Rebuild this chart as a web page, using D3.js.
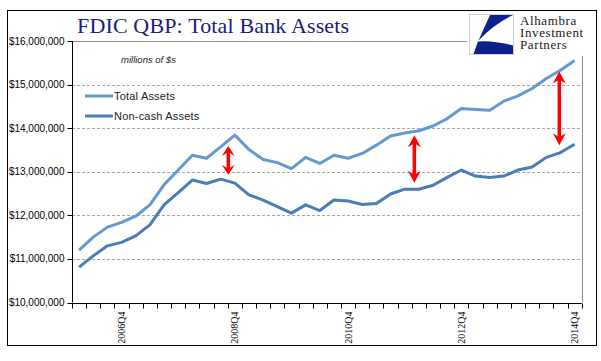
<!DOCTYPE html>
<html>
<head>
<meta charset="utf-8">
<script src="https://cdn.jsdelivr.net/npm/d3@7"></script>
<style>
  body { margin: 0; background: #fff; }
  svg { display: block; }
</style>
</head>
<body>
<div id="chart"></div>
<script>
// quarters shown on the category axis
const quarters = [
  "2006Q1","2006Q2","2006Q3","2006Q4","2007Q1","2007Q2","2007Q3","2007Q4",
  "2008Q1","2008Q2","2008Q3","2008Q4","2009Q1","2009Q2","2009Q3","2009Q4",
  "2010Q1","2010Q2","2010Q3","2010Q4","2011Q1","2011Q2","2011Q3","2011Q4",
  "2012Q1","2012Q2","2012Q3","2012Q4","2013Q1","2013Q2","2013Q3","2013Q4",
  "2014Q1","2014Q2","2014Q3","2014Q4"
];
const tickLabels = ["2006Q4", "2008Q4", "2010Q4", "2012Q4", "2014Q4"];

// trillions of $ (labels are shown in millions)
const totalAssets = [
  11.20, 11.50, 11.73, 11.84, 11.98, 12.24, 12.70, 13.04, 13.38, 13.31, 13.57, 13.84,
  13.51, 13.28, 13.21, 13.07, 13.33, 13.19, 13.38, 13.31, 13.42, 13.61, 13.82, 13.89,
  13.94, 14.05, 14.22, 14.45, 14.43, 14.41, 14.62, 14.74, 14.91, 15.14, 15.33, 15.55
];
const nonCashAssets = [
  10.81, 11.07, 11.30, 11.38, 11.53, 11.78, 12.24, 12.52, 12.81, 12.73, 12.83, 12.74,
  12.47, 12.35, 12.20, 12.05, 12.24, 12.11, 12.35, 12.33, 12.25, 12.27, 12.49, 12.60,
  12.60, 12.69, 12.87, 13.04, 12.90, 12.87, 12.90, 13.04, 13.11, 13.33, 13.44, 13.63
];
const seriesNames = ["Total Assets", "Non-cash Assets"];
const yTicks = [10, 11, 12, 13, 14, 15, 16];

// red double arrows: position on the category axis, top and bottom values
const arrowPos = [11.04, 24.18, 34.42];
const arrowTop = [13.59, 13.84, 15.30];
const arrowBottom = [12.93, 12.75, 13.61];

const width = 601, height = 361;
const plot = {left: 72, right: 581.7, top: 41, bottom: 302.5};

const svg = d3.select("#chart").append("svg")
    .attr("width", width)
    .attr("height", height);

svg.append("rect")
    .attr("x", 0).attr("y", 0)
    .attr("width", width).attr("height", height)
    .attr("fill", "#fff");

// outer frame
svg.append("rect")
    .attr("x", 7.5).attr("y", 10.5)
    .attr("width", 589).attr("height", 335)
    .attr("fill", "none")
    .attr("stroke", "#000")
    .attr("stroke-width", 1);

const x = d3.scaleLinear()
    .domain([0, quarters.length])
    .range([plot.left, plot.right]);

const y = d3.scaleLinear()
    .domain([10, 16])
    .range([plot.bottom, plot.top]);

const fmt = d3.format("$,");

// gridlines
svg.selectAll(".grid")
    .data(yTicks.filter(d => d > 10 && d < 16))
    .enter().append("line")
    .attr("class", "grid")
    .attr("x1", plot.left).attr("x2", plot.right)
    .attr("y1", d => Math.round(y(d)) + 0.5)
    .attr("y2", d => Math.round(y(d)) + 0.5)
    .attr("stroke", "#a6a6a6")
    .attr("stroke-width", 1)
    .attr("stroke-dasharray", "3,2");

// plot border (top and right)
svg.append("path")
    .attr("d", "M" + plot.left + "," + (Math.round(y(16)) + 0.5) +
        "H" + (Math.round(plot.right) + 0.5) + "V" + plot.bottom)
    .attr("fill", "none")
    .attr("stroke", "#8c8c8c")
    .attr("stroke-width", 1);

// y axis
const yAxis = svg.append("g")
    .attr("transform", "translate(" + (plot.left + 0.5) + ",0)");
yAxis.append("line")
    .attr("x1", 0).attr("x2", 0)
    .attr("y1", y(16)).attr("y2", y(10))
    .attr("stroke", "#000");
yAxis.selectAll(".ytick")
    .data(yTicks)
    .enter().append("line")
    .attr("x1", -5).attr("x2", 0)
    .attr("y1", d => Math.round(y(d)) + 0.5)
    .attr("y2", d => Math.round(y(d)) + 0.5)
    .attr("stroke", "#000");
yAxis.selectAll(".ylabel")
    .data(yTicks)
    .enter().append("text")
    .attr("x", -8)
    .attr("y", d => y(d) + 3.5)
    .attr("text-anchor", "end")
    .style("font-family", "'Liberation Sans', Arial, sans-serif")
    .style("font-size", "10px")
    .attr("fill", "#000")
    .text(d => fmt(d * 1e6));

// x axis
const xAxis = svg.append("g")
    .attr("transform", "translate(0," + (Math.round(plot.bottom) + 0.5) + ")");
xAxis.append("line")
    .attr("x1", plot.left).attr("x2", plot.right)
    .attr("stroke", "#000");
xAxis.selectAll(".xtick")
    .data(d3.range(quarters.length + 1))
    .enter().append("line")
    .attr("x1", d => Math.round(x(d)) + 0.5)
    .attr("x2", d => Math.round(x(d)) + 0.5)
    .attr("y1", 0).attr("y2", 5)
    .attr("stroke", "#000");
xAxis.selectAll(".xlabel")
    .data(tickLabels)
    .enter().append("text")
    .attr("transform", d => "translate(" + (x(quarters.indexOf(d) + 0.5) + 3.5) + ",8) rotate(-90)")
    .attr("text-anchor", "end")
    .style("font-family", "'Liberation Serif', 'Times New Roman', serif")
    .style("font-size", "10px")
    .attr("fill", "#000")
    .text(d => d);

// lines
const line = d3.line()
    .x((d, i) => x(i + 0.5))
    .y(d => y(d));

const colors = ["#6399d3", "#4a7cb8"];
[totalAssets, nonCashAssets].forEach(function(s, k) {
    svg.append("path")
        .datum(s)
        .attr("d", line)
        .attr("fill", "none")
        .attr("stroke", colors[k])
        .attr("stroke-width", 3)
        .attr("stroke-linejoin", "round");
});

// legend
seriesNames.forEach(function(name, k) {
    const ly = 96 + k * 20;
    svg.append("line")
        .attr("x1", 85).attr("x2", 113)
        .attr("y1", ly).attr("y2", ly)
        .attr("stroke", colors[k])
        .attr("stroke-width", 3);
    svg.append("text")
        .attr("x", 114)
        .attr("y", ly + 4)
        .style("font-family", "'Liberation Sans', Arial, sans-serif")
        .style("font-size", "11px")
        .style("letter-spacing", "0.2px")
        .attr("fill", "#222")
        .text(name);
});

// red arrows
arrowPos.forEach(function(p, k) {
    const ax = x(p);
    const t = y(arrowTop[k]), b = y(arrowBottom[k]);
    const hw = 6.5, hh = k == 0 ? 10 : 12;
    svg.append("line")
        .attr("x1", ax).attr("x2", ax)
        .attr("y1", t + 4).attr("y2", b - 4)
        .attr("stroke", "#ff0000")
        .attr("stroke-width", 3.5);
    svg.append("path")
        .attr("d", "M" + ax + "," + t + "L" + (ax + hw) + "," + (t + hh) +
            "L" + ax + "," + (t + hh - 4) + "L" + (ax - hw) + "," + (t + hh) + "Z")
        .attr("fill", "#ff0000");
    svg.append("path")
        .attr("d", "M" + ax + "," + b + "L" + (ax + hw) + "," + (b - hh) +
            "L" + ax + "," + (b - hh + 4) + "L" + (ax - hw) + "," + (b - hh) + "Z")
        .attr("fill", "#ff0000");
});

// title and unit note
svg.append("text")
    .attr("x", 77)
    .attr("y", 33)
    .style("font-family", "'Liberation Serif', 'Times New Roman', serif")
    .style("font-size", "22px")
    .style("letter-spacing", "0.15px")
    .attr("fill", "#1d2176")
    .text("FDIC QBP: Total Bank Assets");

svg.append("text")
    .attr("x", 121)
    .attr("y", 63)
    .style("font-family", "'Liberation Sans', Arial, sans-serif")
    .style("font-style", "italic")
    .style("font-size", "9.5px")
    .attr("fill", "#222")
    .text("millions of $s");

// logo
const logo = svg.append("g");
logo.append("rect")
    .attr("x", 467).attr("y", 12)
    .attr("width", 128).attr("height", 44)
    .attr("fill", "#fff");
logo.append("rect")
    .attr("x", 469.5).attr("y", 14.5)
    .attr("width", 44).attr("height", 40)
    .attr("fill", "#fff")
    .attr("stroke", "#d0d0d0");
logo.append("path")
    .attr("d", "M490,15L513,15Q494,24 478.5,40.5Z")
    .attr("fill", "#0b1f8f");
logo.append("path")
    .attr("d", "M478,41.5Q492,40 513,45.5L513,54L473.5,54Z")
    .attr("fill", "#0b1f8f");
["Alhambra", "Investment", "Partners"].forEach(function(w, k) {
    logo.append("text")
        .attr("x", 520)
        .attr("y", 25 + k * 12)
        .style("font-family", "'Liberation Serif', 'Times New Roman', serif")
        .style("font-size", "13px")
        .style("letter-spacing", "0.6px")
        .attr("fill", "#1a1a1a")
        .text(w);
});
</script>
</body>
</html>
